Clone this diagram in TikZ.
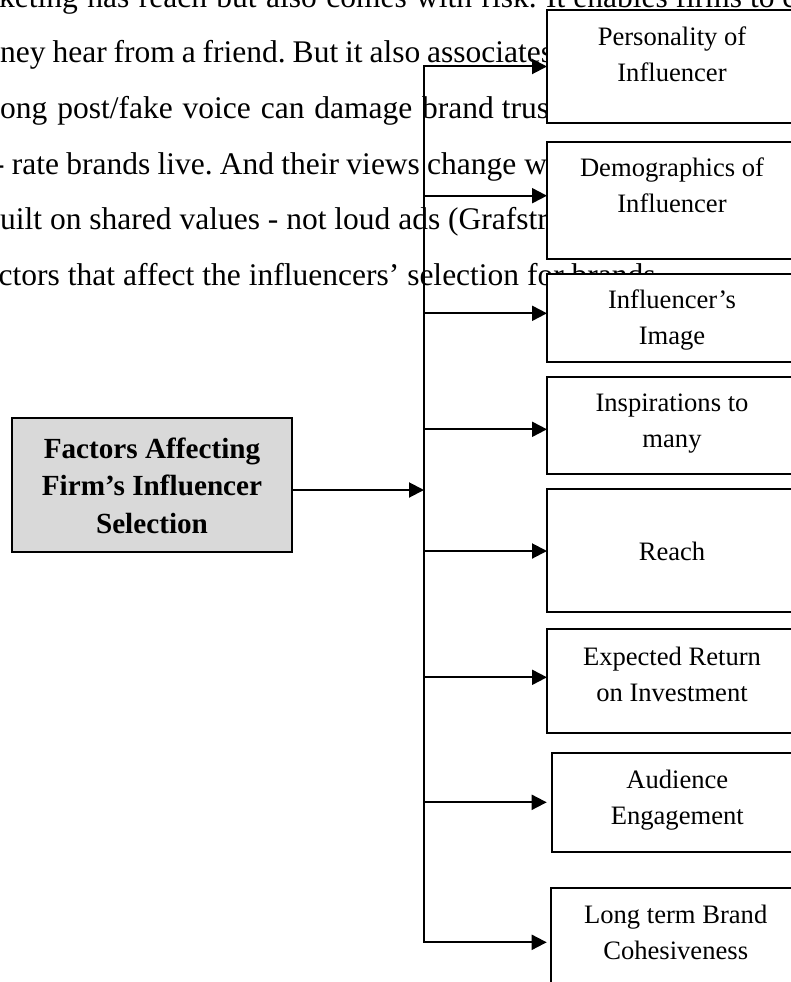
\documentclass[tikz,border=0pt]{standalone}
\usepackage{fontspec}
\setmainfont{Liberation Serif}
\usetikzlibrary{arrows.meta}
\definecolor{mainfill}{RGB}{217,217,217}
\newcommand\factortext[3]{\parbox[b][#1pt][t]{250pt}{\centering\fontsize{26.6}{36}\selectfont\rule{0pt}{#2pt}#3}}
\newcommand\bgsp{\spaceskip=0.25em plus 0.5em minus 0.2em\relax}
\begin{document}
\frenchspacing
\begin{tikzpicture}[x=1pt,y=-1pt,
  bgline/.style={anchor=base west, inner sep=0pt, font=\fontsize{31.5}{37}\selectfont},
  factor/.style={draw, fill=white, line width=2pt, inner sep=0pt, outer sep=0pt, anchor=north west},
  mainbox/.style={draw, fill=mainfill, line width=2pt, inner sep=0pt, outer sep=0pt, anchor=north west},
  conn/.style={line width=2pt},
  arr/.style={conn, -{Triangle[length=15pt,width=15pt]}},
]
\useasboundingbox (0,0) rectangle (791,982);
\clip (0,0) rectangle (791,982);
% background paragraph
\node[bgline] (t1) at (-1,8) {\hbox to 547pt{\bgsp keting has reach but also comes with risk. }It enables firms to c};
\node[bgline] (t2) at (0,62.5) {\hbox to 427pt{\bgsp ney hear from a friend. But it also }associates};
\node[bgline] (t3) at (0,118.3) {\hbox to 422pt{\bgsp ong post/fake voice can damage }brand trust};
\node[bgline] (t4) at (-6,174) {\hbox to 433pt{\bgsp - rate brands live. And their views }change w};
\node[bgline] (t5) at (0,229.5) {\hbox to 448pt{\bgsp uilt on shared values - not loud ads }(Grafstr};
\node[bgline] (t6) at (-1.5,285) {\hbox to 408.5pt{\bgsp ctors that affect the influencers’ }selection for brands.};
% main box
\node[mainbox] (m) at (12.3,417.7) {\parbox[b][134pt][t]{279.4pt}{\centering\fontsize{29.2}{37.5}\selectfont\bfseries\rule{0pt}{40.6pt}Factors Affecting\\Firm’s Influencer\\Selection}};
% factor boxes
\node[factor] (f1) at (547,10) {\factortext{113}{35}{Personality of\\Influencer}};
\node[factor] (f2) at (547,141.7) {\factortext{117.3}{34.3}{Demographics of\\Influencer}};
\node[factor] (f3) at (547,274) {\factortext{88.3}{34}{Influencer’s\\Image}};
\node[factor] (f4) at (547,376.7) {\factortext{97.6}{35}{Inspirations to\\many}};
\node[factor] (f5) at (547,489.3) {\factortext{122.4}{70.7}{Reach}};
\node[factor] (f6) at (547,629) {\factortext{103.7}{36}{Expected Return\\on Investment}};
\node[factor] (f7) at (552.3,753.3) {\factortext{98.7}{35}{Audience\\Engagement}};
\node[factor] (f8) at (550.7,888.3) {\factortext{112}{35}{Long term Brand\\Cohesiveness}};
% trunk coordinates
\coordinate (b1) at (424,66.5);
\coordinate (b2) at (424,195.7);
\coordinate (b3) at (424,313.3);
\coordinate (b4) at (424,429.3);
\coordinate (b5) at (424,551);
\coordinate (b6) at (424,677.3);
\coordinate (b7) at (424,802.3);
\coordinate (b8) at (424,942.3);
\coordinate (jm) at (424,490);
% connectors
\draw[conn, line cap=rect] (b1) -- (b8);
\draw[arr] (m.east |- jm) -- (jm);
\draw[arr] (b1) -- (b1 -| f1.west);
\draw[arr] (b2) -- (b2 -| f2.west);
\draw[arr] (b3) -- (b3 -| f3.west);
\draw[arr] (b4) -- (b4 -| f4.west);
\draw[arr] (b5) -- (b5 -| f5.west);
\draw[arr] (b6) -- (b6 -| f6.west);
\draw[arr, shorten >=5.6pt] (b7) -- (b7 -| f7.west);
\draw[arr, shorten >=4pt] (b8) -- (b8 -| f8.west);
\end{tikzpicture}
\end{document}
